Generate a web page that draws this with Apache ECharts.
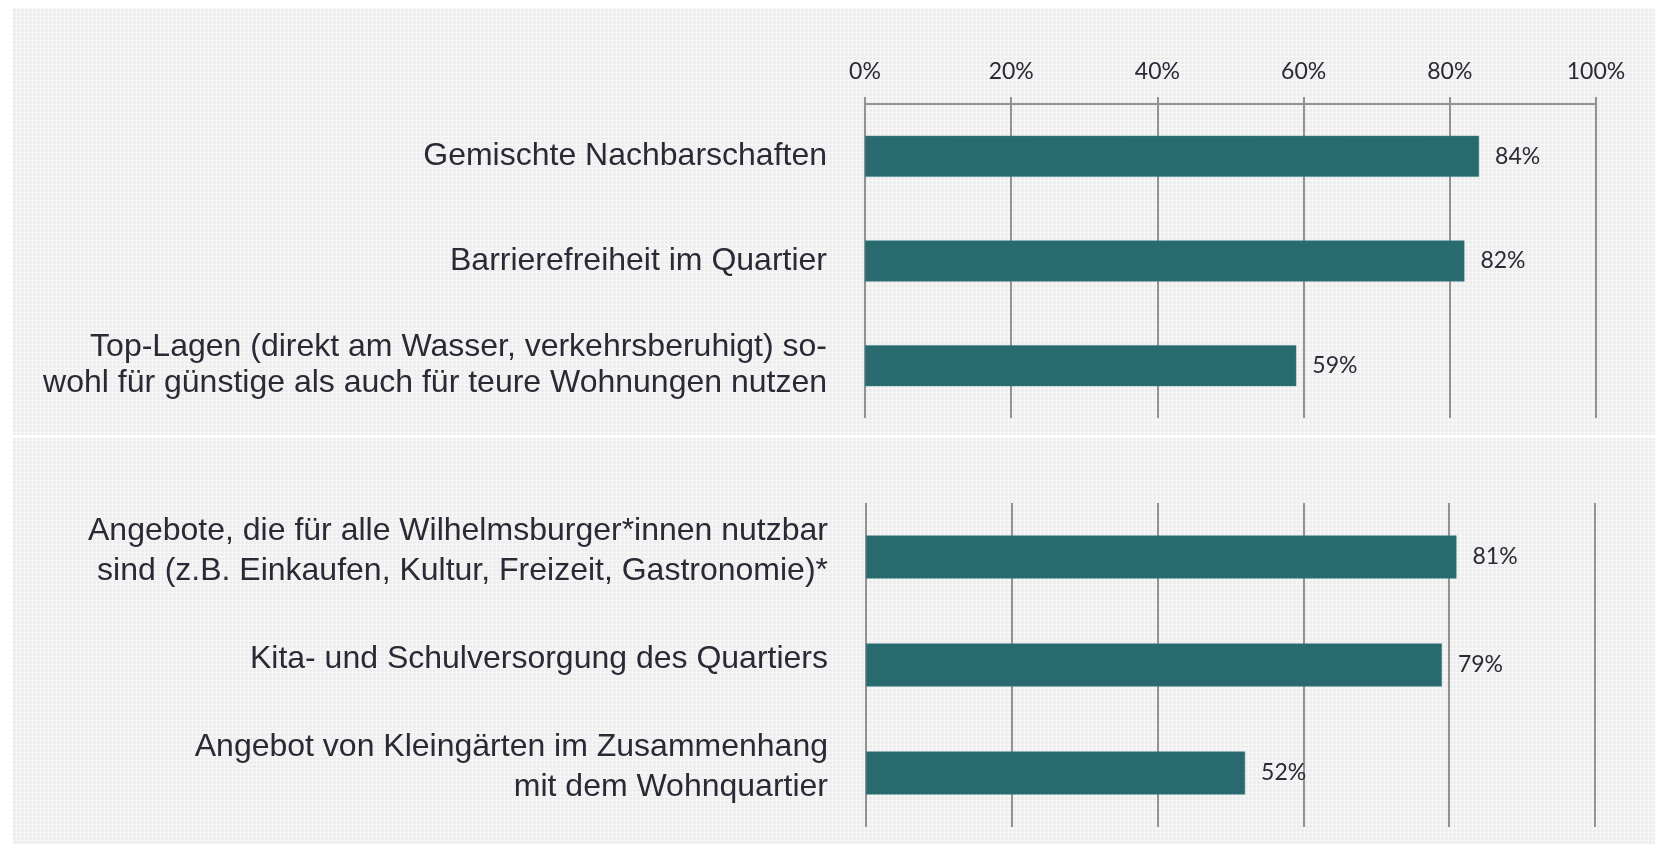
<!DOCTYPE html>
<html>
<head>
<meta charset="utf-8">
<script src="https://cdn.jsdelivr.net/npm/echarts@6/dist/echarts.min.js"></script>
<style>
html,body{margin:0;padding:0;background:#fff;}
#chart{width:1655px;height:844px;}
</style>
</head>
<body>
<div id="chart"></div>
<script>
// ---- data ----
var topCategories = [
  'Gemischte Nachbarschaften',
  'Barrierefreiheit im Quartier',
  'Top-Lagen (direkt am Wasser, verkehrsberuhigt) so-\nwohl für günstige als auch für teure Wohnungen nutzen'
];
var topValues = [84, 82, 59];

var bottomCategories = [
  'Angebote, die für alle Wilhelmsburger*innen nutzbar\nsind (z.B. Einkaufen, Kultur, Freizeit, Gastronomie)*',
  'Kita- und Schulversorgung des Quartiers',
  'Angebot von Kleingärten im Zusammenhang\nmit dem Wohnquartier'
];
var bottomValues = [81, 79, 52];

var axisTicks = [0, 20, 40, 60, 80, 100];

// ---- background texture ----
var tile = document.createElement('canvas');
tile.width = 4; tile.height = 4;
var tc = tile.getContext('2d');
tc.fillStyle = '#efefef'; tc.fillRect(0, 0, 4, 4);
tc.fillStyle = '#f6f6f6'; tc.fillRect(0, 0, 4, 1); tc.fillRect(0, 0, 1, 4);
tc.fillStyle = '#e6e6e6'; tc.fillRect(2, 2, 1, 1);

var chart = echarts.init(document.getElementById('chart'), null, {renderer: 'canvas'});

var gridColor = '#929292';
var barColor = '#296a6f';
var textColor = '#2a2a36';
var catFont = 'Liberation Sans, Arial, sans-serif';
var numFont = 'Lato, Calibri, sans-serif';

function xAxisFor(gridIndex, showAxis) {
  return {
    type: 'value',
    gridIndex: gridIndex,
    position: 'top',
    min: axisTicks[0],
    max: axisTicks[axisTicks.length - 1],
    interval: axisTicks[1] - axisTicks[0],
    axisLine: {show: showAxis, lineStyle: {color: gridColor, width: 2}},
    axisTick: {show: showAxis, length: 7, lineStyle: {color: gridColor, width: 2}},
    axisLabel: {
      show: showAxis, margin: 21, formatter: '{value}%',
      fontFamily: numFont, fontSize: 23, color: textColor
    },
    splitLine: {show: true, lineStyle: {color: gridColor, width: 2}}
  };
}

function yAxisFor(gridIndex, cats, lh, shiftUp) {
  return {
    type: 'category',
    gridIndex: gridIndex,
    data: cats,
    inverse: true,
    axisLine: {show: false},
    axisTick: {show: false},
    splitLine: {show: false},
    axisLabel: {
      margin: 38,
      fontFamily: catFont,
      fontSize: 32,
      lineHeight: lh,
      color: textColor,
      align: 'right',
      formatter: function (v) {
        return shiftUp > 0 ? v + '\n{s| }' : v;
      },
      rich: {
        s: {fontSize: 1, lineHeight: shiftUp * 2}
      }
    }
  };
}

function barSeries(idx, vals, width) {
  return {
    type: 'bar',
    xAxisIndex: idx,
    yAxisIndex: idx,
    data: vals,
    barWidth: width,
    itemStyle: {color: barColor, borderColor: '#3d7f84', borderWidth: 0.5},
    label: {
      show: true,
      position: 'right',
      distance: 16,
      formatter: '{c}%',
      fontFamily: numFont,
      fontSize: 23,
      color: textColor
    },
    silent: true
  };
}

var option = {
  backgroundColor: '#ffffff',
  animation: false,
  graphic: [
    {
      type: 'rect', z: -100, silent: true,
      shape: {x: 13, y: 8, width: 1642, height: 836},
      style: {fill: {image: tile, repeat: 'repeat'}}
    },
    {
      type: 'rect', z: -90, silent: true,
      shape: {x: 13, y: 435, width: 1642, height: 3},
      style: {fill: '#ffffff'}
    }
  ],
  grid: [
    {left: 865, right: 59, top: 104, height: 314, containLabel: false},
    {left: 866, right: 60, top: 503, height: 324, containLabel: false}
  ],
  xAxis: [xAxisFor(0, true), xAxisFor(1, false)],
  yAxis: [yAxisFor(0, topCategories, 36, 0), yAxisFor(1, bottomCategories, 40, 6)],
  series: [barSeries(0, topValues, 41), barSeries(1, bottomValues, 43)]
};

chart.setOption(option);
</script>
</body>
</html>
